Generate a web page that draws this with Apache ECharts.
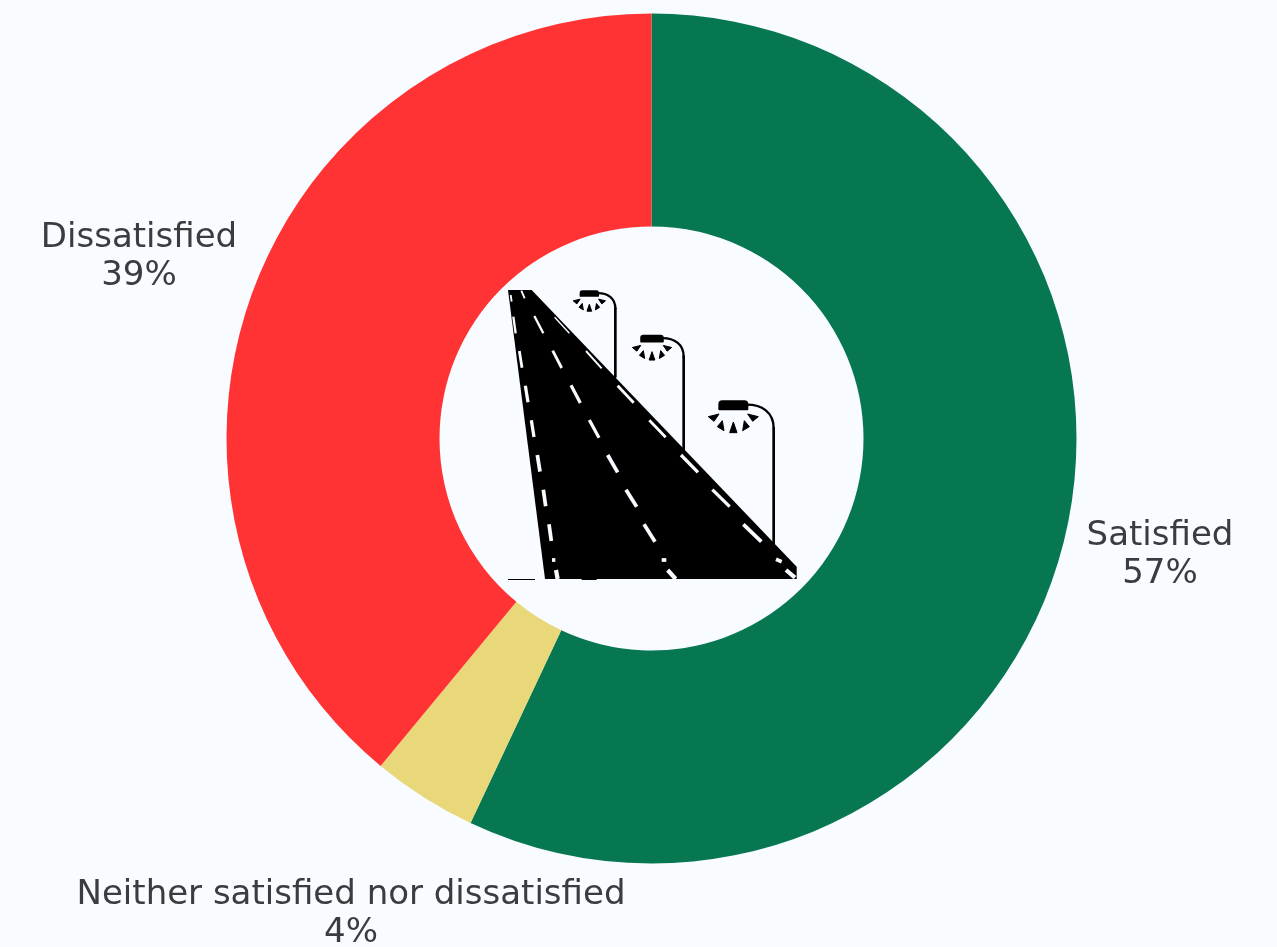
<!DOCTYPE html>
<html><head><meta charset="utf-8">
<style>html,body{margin:0;padding:0;background:#f8fbff}#c{width:1277px;height:947px}</style>
<script src="https://cdn.jsdelivr.net/npm/echarts@6/dist/echarts.min.js"></script>
</head><body><div id="c"></div>
<script>
const categories = ['Satisfied','Neither satisfied nor dissatisfied','Dissatisfied'];
const values = [57,4,39];
const colors = ['#077751','#e8d87a','#ff3333'];
const labelCenters = [[1160,555],[351,914],[139,257]];

const chart = echarts.init(document.getElementById('c'));
const ink = '#000', bg = '#f8fbff';

function dashes(list){
  return list.map(d=>({type:'line',shape:{x1:d[0],y1:d[1],x2:d[2],y2:d[3]},style:{stroke:bg,lineWidth:d[4]*1.4}}));
}
function lamp(cx,top,s,poleBottom){
  const P=(x,y)=>[cx+x*s,top+y*s];
  const tri=(a,b,c)=>({type:'polygon',shape:{points:[P(...a),P(...b),P(...c)]},style:{fill:ink,stroke:ink,lineWidth:3}});
  const m=a=>[-a[0],a[1]];
  const rays=[[[-75,49],[-43,41],[-58,63]],[[-48,79],[-33,61],[-28,91]],[[0,65],[-11,97],[11,97]]];
  const els=[];
  rays.forEach((r,i)=>{els.push(tri(...r)); if(i<2) els.push(tri(m(r[0]),m(r[1]),m(r[2])));});
  const a=P(40,13),b=P(121,84),c1=P(85,13),c2=P(121,35);
  els.push({type:'rect',shape:{x:cx-45*s,y:top,width:90*s,height:30*s,r:[12*s,12*s,3*s,3*s]},style:{fill:ink}});
  els.push({type:'bezierCurve',shape:{x1:a[0],y1:a[1],cpx1:c1[0],cpy1:c1[1],cpx2:c2[0],cpy2:c2[1],x2:b[0],y2:b[1]},
    style:{fill:null,stroke:ink,lineWidth:7,lineCap:'round'}});
  els.push({type:'line',shape:{x1:b[0],y1:b[1],x2:b[0],y2:poleBottom},style:{stroke:ink,lineWidth:8,lineCap:'round'}});
  return els;
}
const icon = [
  {type:'polygon',shape:{points:[[54,45],[125,45],[920,875],[920,912],[165,912]]},style:{fill:ink}},
  {type:'rect',shape:{x:54,y:912,width:81,height:3},style:{fill:ink}},
  {type:'rect',shape:{x:275,y:912,width:45,height:3},style:{fill:ink}},
  ...dashes([
    [62,60,65,80,4],[70,125,77,175,5],[88,228,96,278,6],[106,332,114,382,7],[124,436,132,486,7],[142,540,150,590,8],[160,644,167,694,8],[177,748,184,798,8],[186,855,196,855,8],[198,885,203,912,9],
    [94,47,104,70,4],[133,123,160,175,5],[188,227,215,279,6],[243,331,271,384,7],[298,435,327,488,7],[353,540,383,592,8],[408,644,440,695,8],[462,748,495,800,8],[515,855,529,855,8],[533,885,557,912,9],
    [194,127,238,175,3],[288,228,335,280,4],[383,332,431,383,6],[478,436,527,487,6],[573,540,624,592,7],[667,644,719,695,7],[760,748,814,800,8],[858,853,875,860,8],[888,885,915,908,9]
  ]),
  ...lamp(730,376,1,812),
  ...lamp(486,179,0.785,525),
  ...lamp(298,46,0.645,305)
];

chart.setOption({
  animation:false,
  backgroundColor:bg,
  graphic:[{type:'group',x:490,y:275,scaleX:1/3,scaleY:1/3,silent:true,children:icon}],
  series:[{
    type:'pie',
    center:[651.5,438.5],
    radius:[212,425],
    startAngle:90,
    clockwise:true,
    silent:true,
    data:categories.map((n,i)=>({name:n,value:values[i],itemStyle:{color:colors[i]}})),
    label:{show:true,position:'outside',formatter:'{b}\n{d}%',align:'center',verticalAlign:'middle',
      overflow:'none',width:800,alignTo:'none',
      fontFamily:'DejaVu Sans',fontSize:34,fontWeight:'normal',lineHeight:38,color:'#3a3c3e'},
    labelLine:{show:false},
    labelLayout:function(p){
      const c=labelCenters[p.dataIndex];
      return {x:c[0],y:c[1],align:'center',verticalAlign:'middle'};
    }
  }]
});
</script></body></html>
